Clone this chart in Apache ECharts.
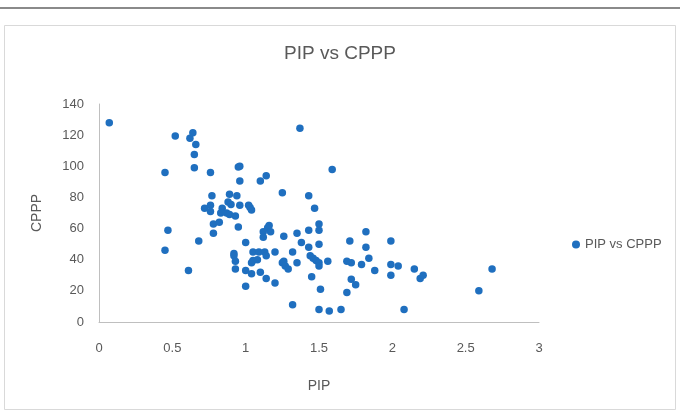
<!DOCTYPE html>
<html>
<head>
<meta charset="utf-8">
<script src="https://cdn.jsdelivr.net/npm/echarts@6/dist/echarts.min.js"></script>
<style>
html,body{margin:0;padding:0;background:#fff;}
#c{width:680px;height:412px;}
</style>
</head>
<body>
<div id="c"></div>
<script>
const chartTitle = "PIP vs CPPP";
const seriesName = "PIP vs CPPP";
const xName = "PIP";
const yName = "CPPP";
const pipValues = [
0.07,0.52,0.62,0.64,0.66,0.65,0.65,0.45,0.76,0.95,0.96,0.96,1.10,1.14,1.37,1.59,1.25,1.43,1.47,
0.77,0.89,0.94,0.72,0.76,0.76,0.84,0.83,0.88,0.90,0.96,0.87,0.89,0.93,1.02,1.03,1.04,
0.78,0.82,0.78,0.95,0.47,0.45,0.61,0.68,1.00,0.92,0.92,0.93,0.93,1.00,1.04,1.00,
1.05,1.09,1.13,1.14,1.04,1.05,1.08,1.10,1.14,1.20,1.20,1.16,1.15,1.17,1.12,1.12,1.26,
1.35,1.38,1.32,1.25,1.26,1.27,1.29,1.35,1.50,1.50,1.43,1.43,1.50,1.44,1.46,1.48,1.50,1.50,
1.56,1.45,1.51,1.50,1.57,1.65,1.32,1.71,1.82,1.82,1.84,1.69,1.72,1.79,1.88,1.72,1.75,1.69,
1.99,1.99,2.04,1.99,2.15,2.19,2.21,2.08,2.59,2.68
];
const cpppValues = [
128,119.5,118,121.5,114,107.5,99,96,96,99.5,100,90.5,90.5,94,124.5,98,83,81,73,
81,82,81,73,75,71,73,70,77,75.5,75,70,69,68,75,73.5,72,
63,64,57,61,59,46,33,52,51,44,42.5,39,34,33,31,23,
45,45,45,42.5,38,39.5,40,32,28,25,45,62,60.5,58,58,54.5,55,
57,51,45,38,39,36,34,38,63,59,59,48,50,42.5,41,39.5,38,36,
39,29,21,8,7,8,11,52,58,48,41,39,38,37,33,27.5,24,19,
52,37,36,30,34,28,30,8,20,34
];
const xTicks = {min: 0, max: 3, interval: 0.5};
const yTicks = {min: 0, max: 140, interval: 20};

const points = pipValues.map((v, i) => [v, cpppValues[i]]);
const font = "'Liberation Sans', 'DejaVu Sans', sans-serif";
const chart = echarts.init(document.getElementById('c'), null, {renderer: 'canvas'});
chart.setOption({
  animation: false,
  backgroundColor: '#ffffff',
  graphic: [
    {type: 'line', shape: {x1: 0, y1: 8, x2: 680, y2: 8}, style: {stroke: '#8a8a8a', lineWidth: 2}, silent: true},
    {type: 'rect', shape: {x: 4.5, y: 25.5, width: 671, height: 384}, style: {fill: 'none', stroke: '#d9d9d9', lineWidth: 1}, silent: true}
  ],
  title: {
    text: chartTitle,
    left: 'center',
    top: 39,
    textStyle: {fontFamily: font, fontSize: 19, fontWeight: 'normal', color: '#595959'}
  },
  legend: {
    data: [seriesName],
    orient: 'vertical',
    left: 567,
    top: 233,
    icon: 'circle',
    itemWidth: 8,
    itemHeight: 8,
    itemGap: 4,
    textStyle: {fontFamily: font, fontSize: 13, color: '#595959'}
  },
  grid: {left: 99, right: 141, top: 104, bottom: 90, containLabel: false},
  xAxis: {
    type: 'value',
    min: xTicks.min, max: xTicks.max, interval: xTicks.interval,
    name: xName,
    nameLocation: 'middle',
    nameGap: 57,
    nameTextStyle: {fontFamily: font, fontSize: 14, color: '#595959'},
    axisLine: {show: true, lineStyle: {color: '#bfbfbf', width: 1}},
    axisTick: {show: false},
    splitLine: {show: false},
    axisLabel: {fontFamily: font, fontSize: 13, color: '#595959', margin: 20}
  },
  yAxis: {
    type: 'value',
    min: yTicks.min, max: yTicks.max, interval: yTicks.interval,
    name: yName,
    nameLocation: 'middle',
    nameGap: 55,
    nameRotate: 90,
    nameTextStyle: {fontFamily: font, fontSize: 14, color: '#595959'},
    axisLine: {show: true, lineStyle: {color: '#bfbfbf', width: 1}},
    axisTick: {show: false},
    splitLine: {show: false},
    axisLabel: {fontFamily: font, fontSize: 13, color: '#595959', margin: 15}
  },
  series: [{
    name: seriesName,
    type: 'scatter',
    data: points,
    symbol: 'circle',
    symbolSize: 7.5,
    itemStyle: {color: '#1f6fbf', opacity: 1}
  }]
});
</script>
</body>
</html>
